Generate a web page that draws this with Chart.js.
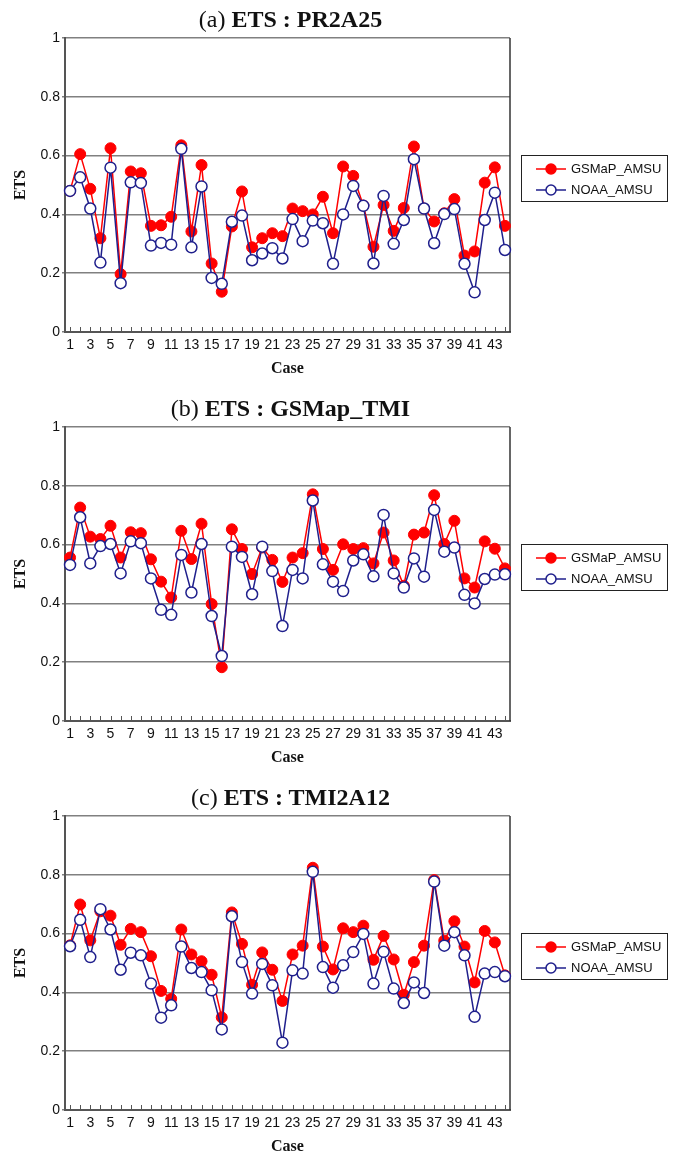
<!DOCTYPE html>
<html>
<head>
<meta charset="utf-8">
<script src="https://cdn.jsdelivr.net/npm/chart.js@4.4.1/dist/chart.umd.min.js"></script>
<style>
  html, body { margin: 0; padding: 0; background: #fff; overflow: hidden; }
  .panel { position: relative; width: 676px; height: 389px; }
  .panel canvas { position: absolute; left: 0; top: 0; }
  .title {
    position: absolute; left: 68px; width: 445px; top: 5px;
    text-align: center; white-space: nowrap;
    font: 24px/28px "Liberation Serif", "Times New Roman", serif; color: #111;
  }
  .legend {
    position: absolute; left: 521px; top: 155px; width: 145px; height: 43px;
    border: 1.5px solid #222; padding-top: 2px; box-sizing: content-box;
    font: 13px "Liberation Sans", Arial, sans-serif; color: #111;
  }
  .legend .row { display: flex; align-items: center; height: 21px; padding-left: 14px; }
  .legend svg { margin-right: 5px; }
</style>
</head>
<body>
<div class="panel">
  <canvas id="chartA" width="676" height="389"></canvas>
  <div class="title">(a) <b>ETS : PR2A25</b></div>
  <div class="legend" data-legend></div>
</div>
<div class="panel">
  <canvas id="chartB" width="676" height="389"></canvas>
  <div class="title">(b) <b>ETS : GSMap_TMI</b></div>
  <div class="legend" data-legend></div>
</div>
<div class="panel">
  <canvas id="chartC" width="676" height="389"></canvas>
  <div class="title">(c) <b>ETS : TMI2A12</b></div>
  <div class="legend" data-legend></div>
</div>
<script>
const cases = ["1","2","3","4","5","6","7","8","9","10","11","12","13","14","15","16","17","18","19","20","21","22",
  "23","24","25","26","27","28","29","30","31","32","33","34","35","36","37","38","39","40","41","42","43","44"];
const yTicks = [0, 0.2, 0.4, 0.6, 0.8, 1];
const yTickLabels = ["0", "0.2", "0.4", "0.6", "0.8", "1"];
const seriesNames = ["GSMaP_AMSU", "NOAA_AMSU"];

// (a) PR2A25
const gsmapA = [0.48, 0.605, 0.487, 0.319, 0.625, 0.197, 0.546, 0.54, 0.361, 0.363,
  0.392, 0.635, 0.342, 0.568, 0.233, 0.137, 0.359, 0.478, 0.288, 0.319,
  0.336, 0.326, 0.42, 0.411, 0.4, 0.46, 0.336, 0.563, 0.531, 0.43,
  0.29, 0.432, 0.344, 0.422, 0.631, 0.42, 0.376, 0.404, 0.452, 0.26,
  0.274, 0.508, 0.56, 0.361];
const noaaA = [0.48, 0.526, 0.42, 0.236, 0.559, 0.166, 0.509, 0.507, 0.294, 0.303,
  0.297, 0.623, 0.288, 0.495, 0.184, 0.164, 0.375, 0.396, 0.244, 0.267,
  0.285, 0.25, 0.384, 0.309, 0.379, 0.37, 0.232, 0.4, 0.497, 0.429,
  0.233, 0.463, 0.3, 0.381, 0.588, 0.42, 0.302, 0.401, 0.418, 0.232,
  0.135, 0.381, 0.474, 0.279];

// (b) GSMap_TMI
const gsmapB = [0.556, 0.726, 0.627, 0.619, 0.664, 0.556, 0.642, 0.639, 0.55, 0.474,
  0.42, 0.647, 0.551, 0.671, 0.398, 0.183, 0.652, 0.585, 0.5, 0.59,
  0.548, 0.473, 0.556, 0.571, 0.771, 0.585, 0.514, 0.601, 0.585, 0.588,
  0.536, 0.641, 0.546, 0.46, 0.634, 0.641, 0.768, 0.602, 0.681, 0.485,
  0.454, 0.611, 0.586, 0.519];
const noaaB = [0.531, 0.693, 0.536, 0.595, 0.602, 0.502, 0.611, 0.605, 0.485, 0.378,
  0.361, 0.565, 0.437, 0.602, 0.357, 0.221, 0.593, 0.558, 0.431, 0.593,
  0.51, 0.323, 0.514, 0.485, 0.75, 0.533, 0.474, 0.442, 0.546, 0.567,
  0.492, 0.701, 0.502, 0.454, 0.553, 0.491, 0.718, 0.576, 0.59, 0.429,
  0.4, 0.483, 0.498, 0.499];

// (c) TMI2A12
const gsmapC = [0.56, 0.699, 0.577, 0.676, 0.661, 0.562, 0.616, 0.605, 0.523, 0.405,
  0.378, 0.614, 0.529, 0.506, 0.46, 0.315, 0.672, 0.565, 0.426, 0.536,
  0.477, 0.371, 0.529, 0.559, 0.824, 0.556, 0.478, 0.618, 0.605, 0.627,
  0.511, 0.592, 0.512, 0.392, 0.503, 0.559, 0.782, 0.576, 0.642, 0.556,
  0.434, 0.609, 0.57, 0.458];
const noaaC = [0.557, 0.647, 0.52, 0.683, 0.614, 0.477, 0.535, 0.526, 0.43, 0.314,
  0.356, 0.556, 0.483, 0.469, 0.407, 0.274, 0.659, 0.503, 0.396, 0.497,
  0.424, 0.229, 0.475, 0.464, 0.81, 0.486, 0.416, 0.492, 0.537, 0.599,
  0.43, 0.538, 0.413, 0.364, 0.434, 0.398, 0.777, 0.559, 0.605, 0.526,
  0.317, 0.464, 0.469, 0.455];

const RED = "#ff0000";
const NAVY = "#1f1f8c";

// small tick marks pointing up into the plot, plus the right-hand frame line
const frame = {
  id: "frame",
  beforeDatasetsDraw(chart) {
    const { ctx, chartArea: a, scales: { x } } = chart;
    ctx.save();
    ctx.strokeStyle = "#555";
    ctx.lineWidth = 1;
    cases.forEach((c, i) => {
      const px = Math.round(x.getPixelForValue(i)) + 0.5;
      ctx.beginPath();
      ctx.moveTo(px, a.bottom);
      ctx.lineTo(px, a.bottom - 5);
      ctx.stroke();
    });
    ctx.strokeStyle = "#333";
    ctx.lineWidth = 1.5;
    ctx.beginPath();
    ctx.moveTo(a.right, a.top);
    ctx.lineTo(a.right, a.bottom);
    ctx.stroke();
    ctx.restore();
  },
};

function makeChart(id, gsmap, noaa) {
  return new Chart(document.getElementById(id), {
    type: "line",
    data: {
      labels: cases,
      datasets: [
        {
          label: seriesNames[0],
          data: gsmap,
          borderColor: RED,
          borderWidth: 1.5,
          pointRadius: 5.5,
          pointBackgroundColor: RED,
          pointBorderColor: RED,
          pointBorderWidth: 1,
          tension: 0,
          order: 1,
        },
        {
          label: seriesNames[1],
          data: noaa,
          borderColor: NAVY,
          borderWidth: 1.5,
          pointRadius: 5.5,
          pointBackgroundColor: "#fff",
          pointBorderColor: NAVY,
          pointBorderWidth: 1.5,
          tension: 0,
          order: 0,
        },
      ],
    },
    options: {
      responsive: false,
      animation: false,
      devicePixelRatio: 1,
      layout: { padding: { left: 0, right: 166, top: 38, bottom: 0 } },
      plugins: { legend: { display: false }, tooltip: { enabled: false } },
      scales: {
        x: {
          offset: true,
          grid: { display: false, drawTicks: false },
          border: { display: true, color: "#555", width: 2 },
          ticks: {
            autoSkip: false, maxRotation: 0, minRotation: 0, padding: 5,
            color: "#111", font: { family: "Liberation Sans", size: 14 },
            callback: (v, i) => (i % 2 === 0 ? cases[i] : ""),
          },
          title: {
            display: true, text: "Case", color: "#111",
            font: { family: "Liberation Serif", size: 16, weight: "bold" },
            padding: { top: 0, bottom: 11 },
          },
          afterFit: (scale) => { scale.height = 57; },
        },
        y: {
          min: 0, max: 1,
          afterBuildTicks: (scale) => { scale.ticks = yTicks.map((v) => ({ value: v })); },
          grid: { color: "#808080", lineWidth: 1.5, tickLength: 3 },
          border: { display: true, color: "#555", width: 2 },
          ticks: {
            padding: 2, color: "#111",
            font: { family: "Liberation Sans", size: 14 },
            callback: (v, i) => yTickLabels[i],
          },
          title: {
            display: true, text: "ETS", color: "#111",
            font: { family: "Liberation Serif", size: 16, weight: "bold" },
            padding: { top: 11, bottom: 0 },
          },
          afterFit: (scale) => { scale.width = 65; },
        },
      },
    },
    plugins: [frame],
  });
}

function legendIcon(filled) {
  const stroke = filled ? RED : NAVY;
  const fill = filled ? RED : "#fff";
  return `<svg width="30" height="12"><line x1="0" y1="6" x2="30" y2="6" stroke="${stroke}" stroke-width="1.5"/>` +
    `<circle cx="15" cy="6" r="5" fill="${fill}" stroke="${stroke}" stroke-width="1.5"/></svg>`;
}

document.querySelectorAll("[data-legend]").forEach((box) => {
  box.innerHTML = `<div class="row">${legendIcon(true)}<span>${seriesNames[0]}</span></div>` +
    `<div class="row">${legendIcon(false)}<span>${seriesNames[1]}</span></div>`;
});

makeChart("chartA", gsmapA, noaaA);
makeChart("chartB", gsmapB, noaaB);
makeChart("chartC", gsmapC, noaaC);
</script>
</body>
</html>
